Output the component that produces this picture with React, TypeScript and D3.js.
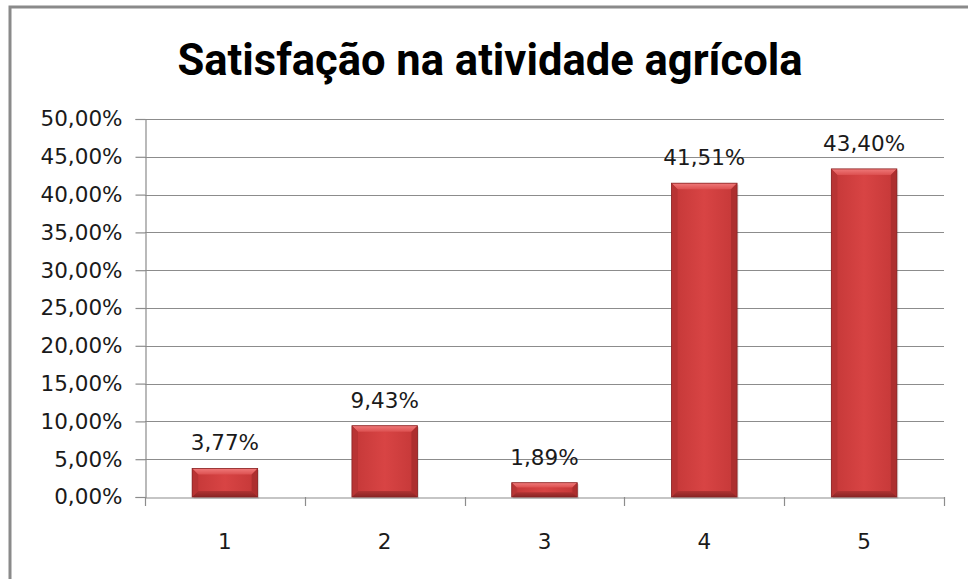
import React, { useEffect, useRef } from 'react';
import * as d3 from 'd3';

const title = 'Satisfação na atividade agrícola';
const categories = ['1', '2', '3', '4', '5'];
const values = [3.77, 9.43, 1.89, 41.51, 43.4];
const yTicks = [0, 5, 10, 15, 20, 25, 30, 35, 40, 45, 50];

const fmt = (v: number) => v.toFixed(2).replace('.', ',') + '%';

const BarChart: React.FC = () => {
  const svgRef = useRef<SVGSVGElement | null>(null);

  useEffect(() => {
    if (!svgRef.current) return;
    const svg = d3.select(svgRef.current);
    svg.selectAll('*').remove();

    const width = 968;
    const height = 579;
    const margin = { top: 119, right: 24, bottom: 82, left: 145 };
    const labelFont = 'DejaVu Sans, Verdana, sans-serif';
    const fs = 21.5;

    const x = d3.scaleBand()
      .domain(categories)
      .range([margin.left, width - margin.right])
      .paddingInner(0.59)
      .paddingOuter(0.295);

    // band boundaries for ticks
    const xb = d3.scaleBand()
      .domain(categories)
      .range([margin.left, width - margin.right]);

    const y = d3.scaleLinear()
      .domain([0, 50])
      .range([height - margin.bottom, margin.top]);

    const defs = svg.append('defs');
    const g = defs.append('linearGradient').attr('id', 'barFace')
      .attr('x1', 0).attr('x2', 1).attr('y1', 0).attr('y2', 0);
    g.append('stop').attr('offset', '0%').attr('stop-color', '#a82c2c');
    g.append('stop').attr('offset', '10%').attr('stop-color', '#c83a3a');
    g.append('stop').attr('offset', '50%').attr('stop-color', '#d84444');
    g.append('stop').attr('offset', '90%').attr('stop-color', '#c83a3a');
    g.append('stop').attr('offset', '100%').attr('stop-color', '#a82c2c');
    const gt = defs.append('linearGradient').attr('id', 'barTop')
      .attr('x1', 0).attr('x2', 0).attr('y1', 0).attr('y2', 1);
    gt.append('stop').attr('offset', '0%').attr('stop-color', '#f07a7a');
    gt.append('stop').attr('offset', '100%').attr('stop-color', '#dc5050');
    const gbt = defs.append('linearGradient').attr('id', 'barBottom')
      .attr('x1', 0).attr('x2', 0).attr('y1', 0).attr('y2', 1);
    gbt.append('stop').attr('offset', '0%').attr('stop-color', '#b03333');
    gbt.append('stop').attr('offset', '100%').attr('stop-color', '#8a2424');

    // outer frame
    svg.append('rect')
      .attr('x', 10).attr('y', 7)
      .attr('width', 980).attr('height', 600)
      .attr('fill', 'white')
      .attr('stroke', '#8a8a8a')
      .attr('stroke-width', 3);

    // title
    svg.append('text')
      .attr('x', 490).attr('y', 75)
      .attr('text-anchor', 'middle')
      .attr('font-family', 'Liberation Sans Narrow, Arial Narrow, Roboto, sans-serif')
      .attr('font-weight', 'bold')
      .attr('font-size', 44)
      .attr('textLength', 625)
      .attr('lengthAdjust', 'spacingAndGlyphs')
      .attr('fill', '#000')
      .text(title);

    // gridlines
    svg.append('g')
      .selectAll('line')
      .data(yTicks.filter(t => t > 0))
      .enter().append('line')
      .attr('x1', margin.left).attr('x2', width - margin.right)
      .attr('y1', d => Math.round(y(d)) + 0.5).attr('y2', d => Math.round(y(d)) + 0.5)
      .attr('stroke', '#8c8c8c').attr('stroke-width', 1.2);

    // y axis
    const yAxis = svg.append('g')
      .attr('transform', `translate(${margin.left + 0.5},0)`)
      .call(d3.axisLeft(y).tickValues(yTicks).tickSize(10).tickPadding(13).tickFormat(d => fmt(d as number)));
    yAxis.select('.domain').attr('stroke', '#8c8c8c').attr('stroke-width', 1.2);
    yAxis.selectAll('.tick line').attr('stroke', '#8c8c8c').attr('stroke-width', 1.2);
    yAxis.selectAll('.tick text')
      .attr('font-family', labelFont).attr('font-size', fs).attr('fill', '#1a1a1a');

    // x axis
    const xAxis = svg.append('g')
      .attr('transform', `translate(0,${y(0) + 0.5})`)
      .call(d3.axisBottom(xb).tickSize(0).tickPadding(36));
    xAxis.select('.domain').attr('stroke', '#8c8c8c').attr('stroke-width', 1.2);
    xAxis.selectAll('.tick text')
      .attr('font-family', labelFont).attr('font-size', fs).attr('fill', '#1a1a1a');
    const bounds = [...categories.map(c => xb(c) || 0), width - margin.right];
    svg.append('g')
      .selectAll('line')
      .data(bounds)
      .enter().append('line')
      .attr('x1', d => Math.round(d) + 0.5).attr('x2', d => Math.round(d) + 0.5)
      .attr('y1', y(0)).attr('y2', y(0) + 9)
      .attr('stroke', '#8c8c8c').attr('stroke-width', 1.2);

    // bars
    const data = categories.map((c, i) => ({ c, v: values[i] }));
    const bars = svg.append('g').selectAll('g').data(data).enter().append('g');
    const bw = x.bandwidth();
    bars.each(function (d) {
      const gb = d3.select(this);
      const x0 = x(d.c) || 0;
      const x1 = x0 + bw;
      const y0 = y(d.v);
      const y1 = y(0);
      const h = y1 - y0;
      const b = Math.min(6, h / 3);
      // shadow
      gb.append('rect')
        .attr('x', x0 + 1.5).attr('y', y0 + 1.5).attr('width', bw).attr('height', h)
        .attr('fill', '#000').attr('opacity', 0.12);
      gb.append('rect')
        .attr('x', x0).attr('y', y0).attr('width', bw).attr('height', h)
        .attr('fill', 'url(#barFace)');
      // top bevel
      gb.append('polygon')
        .attr('points', `${x0},${y0} ${x1},${y0} ${x1 - b},${y0 + b} ${x0 + b},${y0 + b}`)
        .attr('fill', 'url(#barTop)');
      // bottom bevel
      gb.append('polygon')
        .attr('points', `${x0},${y1} ${x1},${y1} ${x1 - b},${y1 - b} ${x0 + b},${y1 - b}`)
        .attr('fill', 'url(#barBottom)');
      // side bevels
      gb.append('polygon')
        .attr('points', `${x0},${y0} ${x0 + b},${y0 + b} ${x0 + b},${y1 - b} ${x0},${y1}`)
        .attr('fill', '#b83434');
      gb.append('polygon')
        .attr('points', `${x1},${y0} ${x1 - b},${y0 + b} ${x1 - b},${y1 - b} ${x1},${y1}`)
        .attr('fill', '#ad2f2f');
      gb.append('rect')
        .attr('x', x0).attr('y', y0).attr('width', bw).attr('height', h)
        .attr('fill', 'none').attr('stroke', '#8a2525').attr('stroke-width', 0.8);
    });

    // value labels
    svg.append('g')
      .selectAll('text')
      .data(data)
      .enter().append('text')
      .attr('x', d => (x(d.c) || 0) + bw / 2)
      .attr('y', d => y(d.v) - 18)
      .attr('text-anchor', 'middle')
      .attr('font-family', labelFont)
      .attr('font-size', fs)
      .attr('fill', '#1a1a1a')
      .text(d => fmt(d.v));
  }, []);

  return (
    <svg ref={svgRef} width="968" height="579"
      style={{ position: 'absolute', left: 0, top: 0, background: 'white' }} />
  );
};

export default function App() {
  return <BarChart />;
}
